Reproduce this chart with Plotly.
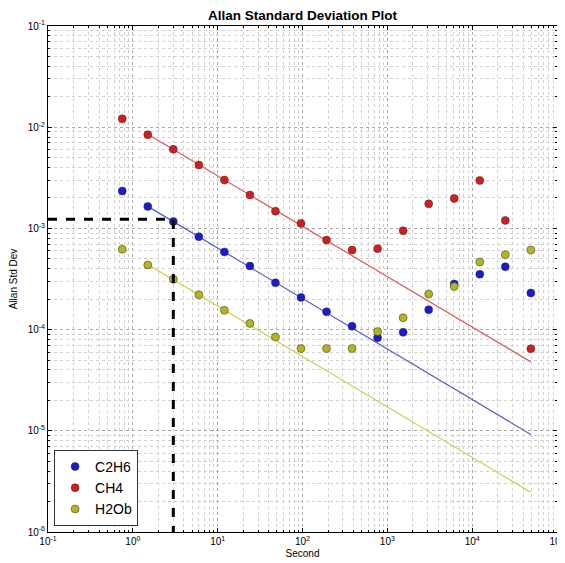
import plotly.graph_objects as go

# averaging times (s)
tau = [0.75, 1.5, 3, 6, 12, 24, 48, 96, 192, 384, 768, 1536, 3072,
       6144, 12288, 24576, 49152]

c2h6 = [2.34e-3, 1.65e-3, 1.17e-3, 8.28e-4, 5.85e-4, 4.25e-4, 2.90e-4,
        2.08e-4, 1.50e-4, 1.08e-4, 8.3e-5, 9.4e-5, 1.57e-4, 2.82e-4,
        3.52e-4, 4.18e-4, 2.30e-4]
ch4 = [1.21e-2, 8.43e-3, 6.05e-3, 4.23e-3, 3.01e-3, 2.14e-3, 1.48e-3,
       1.12e-3, 7.67e-4, 6.12e-4, 6.31e-4, 9.49e-4, 1.75e-3, 1.98e-3,
       2.98e-3, 1.20e-3, 6.48e-5]
h2ob = [6.21e-4, 4.35e-4, 3.14e-4, 2.21e-4, 1.55e-4, 1.15e-4, 8.45e-5,
        6.5e-5, 6.5e-5, 6.5e-5, 9.55e-5, 1.31e-4, 2.25e-4, 2.66e-4,
        4.66e-4, 5.50e-4, 6.12e-4]

# tau^-1/2 fit lines (end points)
fit_tau = [1.5, 49152]
fit_c2h6 = [1.65e-3, 9.2e-6]
fit_ch4 = [8.5e-3, 4.8e-5]
fit_h2ob = [4.4e-4, 2.47e-6]

# reference marker
ref_tau = 3
ref_sigma = 1.23e-3

X_RANGE = [0.1, 1e5]
Y_RANGE = [1e-6, 1e-1]

series = [
    ("C2H6", c2h6, fit_c2h6, "#1a1ad0", "#5a5ac8"),
    ("CH4", ch4, fit_ch4, "#d41e1e", "#d85a5a"),
    ("H2Ob", h2ob, fit_h2ob, "#b4b41e", "#cccc40"),
]

fig = go.Figure()

for name, vals, fit, col, lcol in series:
    fig.add_trace(go.Scatter(
        x=fit_tau, y=fit, mode="lines",
        line=dict(color=lcol, width=1.2),
        showlegend=False, hoverinfo="skip",
    ))

for name, vals, fit, col, lcol in series:
    fig.add_trace(go.Scatter(
        x=tau, y=vals, mode="markers", name=name,
        marker=dict(size=8, color=col, line=dict(color="#333333", width=0.5)),
    ))

fig.add_trace(go.Scatter(
    x=[X_RANGE[0], ref_tau, ref_tau],
    y=[ref_sigma, ref_sigma, Y_RANGE[0]],
    mode="lines", line=dict(color="black", width=3, dash="dash"),
    showlegend=False, hoverinfo="skip",
))

grid = "#a8a8a8"
minor_grid = "#d0d0d0"

# page body adds an 8px margin, so the figure is a bit smaller than the window
fig.update_layout(
    width=557, height=555,
    paper_bgcolor="white", plot_bgcolor="white",
    margin=dict(l=40, r=8, t=18, b=31),
    font=dict(family="Liberation Sans, Arial, sans-serif", color="black", size=11),
    title=dict(text="<b>Allan Standard Deviation Plot</b>", xref="paper", x=0.5,
               xanchor="center", y=0.986, yanchor="middle", font=dict(size=13.5)),
    xaxis=dict(
        type="log", range=[-1, 5], showline=True, linecolor="black", linewidth=1,
        mirror="ticks", ticks="inside", ticklen=4, tickcolor="black",
        tickvals=[0.1, 1, 10, 100, 1000, 1e4, 1e5],
        ticktext=["10<sup>-1</sup>", "10<sup>0</sup>", "10<sup>1</sup>",
                  "10<sup>2</sup>", "10<sup>3</sup>", "10<sup>4</sup>", "10<sup>5</sup>"],
        showgrid=True, gridcolor=grid, griddash="dot", gridwidth=1,
        minor=dict(dtick="D1", showgrid=True, gridcolor=minor_grid, griddash="dot",
                   ticks="inside", ticklen=2, tickcolor="black"),
        title=dict(text="Second", font=dict(size=10), standoff=3),
        zeroline=False, tickfont=dict(size=10), automargin=False,
    ),
    yaxis=dict(
        type="log", range=[-6, -1], showline=True, linecolor="black", linewidth=1,
        mirror="ticks", ticks="inside", ticklen=4, tickcolor="black",
        tickvals=[1e-6, 1e-5, 1e-4, 1e-3, 1e-2, 1e-1],
        ticktext=["10<sup>-6</sup>", "10<sup>-5</sup>", "10<sup>-4</sup>",
                  "10<sup>-3</sup>", "10<sup>-2</sup>", "10<sup>-1</sup>"],
        showgrid=True, gridcolor=grid, griddash="dot", gridwidth=1,
        minor=dict(dtick="D1", showgrid=True, gridcolor=minor_grid, griddash="dot",
                   ticks="inside", ticklen=2, tickcolor="black"),
        title=dict(text="Allan Std Dev", font=dict(size=10), standoff=12),
        zeroline=False, tickfont=dict(size=10), automargin=False,
    ),
    legend=dict(
        x=0.012, y=0.012, xanchor="left", yanchor="bottom",
        bgcolor="white", bordercolor="#333333", borderwidth=1,
        font=dict(size=14), tracegroupgap=2,
    ),
)

fig.write_html("out.html")
